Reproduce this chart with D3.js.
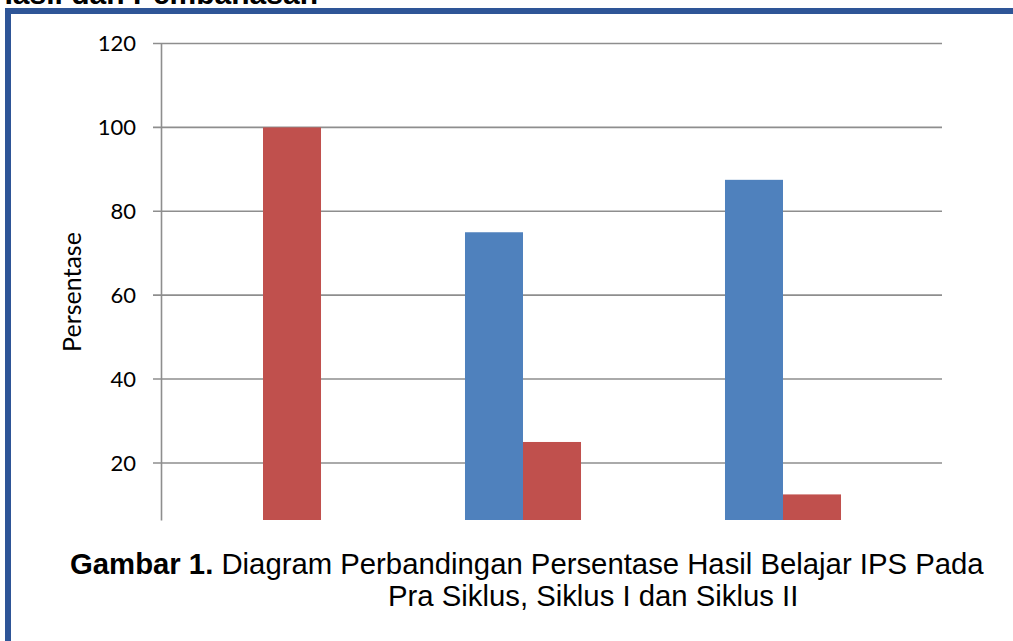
<!DOCTYPE html>
<html><head><meta charset="utf-8">
<script src="https://cdn.jsdelivr.net/npm/d3@7"></script>
<style>
html,body{margin:0;padding:0;background:#fff;}
svg{display:block;}
</style></head>
<body>
<svg id="chart" width="1013" height="641"></svg>
<script>
const categories = ["Pra Siklus", "Siklus I", "Siklus II"];
const seriesNames = ["Tuntas", "Belum Tuntas"];
const tuntas = [0, 75, 87.5];
const belumTuntas = [100, 25, 12.5];
const yTicks = [20, 40, 60, 80, 100, 120];
const yMin = 6.4, yMax = 120;
const colors = ["#4f81bd", "#c0504d"];

const svg = d3.select("#chart");

// cut-off section heading
svg.append("text").attr("x", 318).attr("y", 4).attr("text-anchor", "end")
  .attr("font-family", "Liberation Sans, Arial, sans-serif").attr("font-weight", "bold")
  .attr("font-size", 30).attr("fill", "#000").text("Hasil dan Pembahasan");

// frame
svg.append("rect").attr("x", 5).attr("y", 8).attr("width", 1008).attr("height", 6).attr("fill", "#2e5597");
svg.append("rect").attr("x", 5).attr("y", 8).attr("width", 6).attr("height", 633).attr("fill", "#2e5597");

const axisX = 161, gridRight = 942;
const y = d3.scaleLinear().domain([yMin, yMax]).range([520, 43.5]).clamp(true);
const x0 = d3.scaleBand().domain(categories).range([133, 913]).paddingInner(0.5538).paddingOuter(0.2769);
const x1 = d3.scaleBand().domain(seriesNames).range([0, x0.bandwidth()]);

// gridlines
const g = svg.append("g");
g.selectAll("line.grid").data(yTicks).join("line").attr("class", "grid")
  .attr("x1", axisX - 8).attr("x2", gridRight)
  .attr("y1", d => y(d)).attr("y2", d => y(d))
  .attr("stroke", "#8e8e8e").attr("stroke-width", 1.6);

// bars
const rows = categories.map((c, i) => ({c, vals: [tuntas[i], belumTuntas[i]]}));
const grp = svg.append("g").selectAll("g").data(rows).join("g")
  .attr("transform", d => `translate(${x0(d.c)},0)`);
grp.selectAll("rect").data(d => d.vals.map((v, j) => ({v, s: seriesNames[j], j})))
  .join("rect")
  .attr("x", d => x1(d.s)).attr("width", x1.bandwidth())
  .attr("y", d => y(d.v)).attr("height", d => Math.max(0, y(yMin) - y(d.v)))
  .attr("fill", d => colors[d.j]);

// y axis
const yAxis = d3.axisLeft(y).tickValues(yTicks).tickSize(0).tickPadding(25);
const ax = svg.append("g").attr("transform", `translate(${axisX},0)`).call(yAxis);
ax.select(".domain").attr("stroke", "#8e8e8e").attr("stroke-width", 1.6);
ax.selectAll("text").attr("font-family", "Lato, 'Open Sans', sans-serif").attr("font-size", 22).attr("fill", "#000");

// axis title
svg.append("text").attr("transform", "translate(81,292) rotate(-90)")
  .attr("text-anchor", "middle").attr("font-family", "Lato, 'Open Sans', sans-serif")
  .attr("font-size", 25).attr("fill", "#000").text("Persentase");

// caption
const cap = svg.append("text").attr("x", 70).attr("y", 574)
  .attr("font-family", "Liberation Sans, Arial, sans-serif").attr("font-size", 29.3).attr("fill", "#000");
cap.append("tspan").attr("font-weight", "bold").text("Gambar 1.");
cap.append("tspan").text(" Diagram Perbandingan Persentase Hasil Belajar IPS Pada");
svg.append("text").attr("x", 388).attr("y", 606)
  .attr("font-family", "Liberation Sans, Arial, sans-serif").attr("font-size", 29.3).attr("fill", "#000")
  .text("Pra Siklus, Siklus I dan Siklus II");
</script>
</body></html>
